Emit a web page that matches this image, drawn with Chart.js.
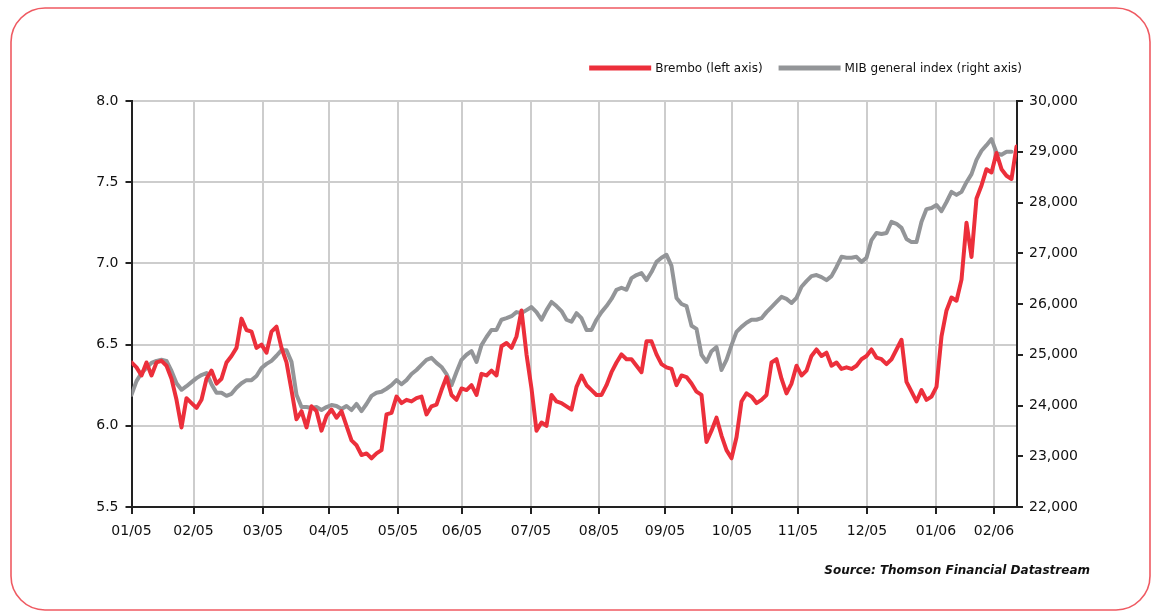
<!DOCTYPE html>
<html><head><meta charset="utf-8">
<script src="https://cdn.jsdelivr.net/npm/chart.js@4.4.1/dist/chart.umd.min.js"></script>
<style>html,body{margin:0;padding:0;background:#fff;}canvas{display:block;}</style>
</head><body>
<canvas id="c" width="1154" height="614"></canvas>
<script>
const monthLabels = ['01/05','02/05','03/05','04/05','05/05','06/05','07/05','08/05','09/05','10/05','11/05','12/05','01/06','02/06'];
const monthTicks = [0, 12.4, 26.3, 39.5, 53.3, 66.1, 79.9, 93.5, 106.7, 120.1, 133.3, 147.1, 160.9, 172.5];
const leftTicks = [5.5, 6.0, 6.5, 7.0, 7.5, 8.0];
const rightTicks = [22000, 23000, 24000, 25000, 26000, 27000, 28000, 29000, 30000];

const bremboValues = [
  6.39, 6.36, 6.31, 6.39, 6.31, 6.39, 6.40, 6.37, 6.29, 6.16,
  5.99, 6.17, 6.14, 6.11, 6.16, 6.29, 6.34, 6.26, 6.29, 6.39,
  6.43, 6.48, 6.66, 6.59, 6.58, 6.48, 6.50, 6.45, 6.58, 6.61,
  6.48, 6.39, 6.22, 6.04, 6.09, 5.99, 6.12, 6.09, 5.97, 6.06,
  6.10, 6.05, 6.09, 6.00, 5.91, 5.88, 5.82, 5.83, 5.80, 5.83,
  5.85, 6.07, 6.08, 6.18, 6.14, 6.16, 6.15, 6.17, 6.18, 6.07,
  6.12, 6.13, 6.22, 6.30, 6.19, 6.16, 6.23, 6.22, 6.25, 6.19,
  6.32, 6.31, 6.34, 6.31, 6.49, 6.51, 6.48, 6.55, 6.71, 6.44,
  6.23, 5.97, 6.02, 6.00, 6.19, 6.15, 6.14, 6.12, 6.10, 6.24,
  6.31, 6.25, 6.22, 6.19, 6.19, 6.25, 6.33, 6.39, 6.44, 6.41,
  6.41, 6.37, 6.33, 6.52, 6.52, 6.44, 6.38, 6.36, 6.35, 6.25,
  6.31, 6.30, 6.26, 6.21, 6.19, 5.90, 5.97, 6.05, 5.94, 5.85,
  5.80, 5.93, 6.15, 6.20, 6.18, 6.14, 6.16, 6.19, 6.39, 6.41,
  6.29, 6.20, 6.26, 6.37, 6.31, 6.34, 6.43, 6.47, 6.43, 6.45,
  6.37, 6.39, 6.35, 6.36, 6.35, 6.37, 6.41, 6.43, 6.47, 6.42,
  6.41, 6.38, 6.41, 6.47, 6.53, 6.27, 6.21, 6.15, 6.22, 6.16,
  6.18, 6.24, 6.55, 6.71, 6.79, 6.77, 6.90, 7.25, 7.04, 7.40,
  7.48, 7.58, 7.56, 7.68, 7.58, 7.54, 7.52, 7.72
];

const mibValues = [
  24210, 24480, 24640, 24740, 24840, 24880, 24900, 24880, 24680, 24440,
  24310, 24380, 24460, 24540, 24600, 24640, 24420, 24250, 24250, 24190,
  24230, 24350, 24440, 24500, 24500, 24580, 24740, 24820, 24880, 24980,
  25090, 25090, 24860, 24210, 23970, 23970, 23950, 23970, 23910, 23970,
  24010, 23990, 23930, 23990, 23910, 24030, 23890, 24030, 24190, 24250,
  24270, 24330, 24400, 24500, 24420, 24500, 24620, 24700, 24800, 24900,
  24940, 24840, 24760, 24620, 24400, 24660, 24900, 25000, 25070, 24860,
  25190, 25350, 25490, 25490, 25690, 25720, 25760, 25840, 25820, 25880,
  25940, 25840, 25690, 25880, 26040, 25960, 25860, 25690, 25650, 25820,
  25720, 25490, 25490, 25690, 25840, 25960, 26100, 26280, 26320, 26280,
  26510, 26570, 26610, 26470, 26630, 26830, 26910, 26970, 26750, 26120,
  26000, 25960, 25570, 25510, 25000, 24860, 25070, 25150, 24700, 24900,
  25190, 25450, 25550, 25630, 25690, 25690, 25720, 25840, 25940, 26040,
  26140, 26100, 26020, 26120, 26340, 26450, 26550, 26570, 26530, 26470,
  26550, 26730, 26930, 26910, 26910, 26930, 26830, 26910, 27260, 27400,
  27380, 27400, 27620, 27580, 27500, 27280, 27220, 27220, 27620, 27870,
  27890, 27950, 27830, 28010, 28210, 28150, 28210, 28400, 28560, 28840,
  29020, 29130, 29250, 28980, 28940, 29000, 29000, null
];

const seriesNames = ['Brembo (left axis)', 'MIB general index (right axis)'];
const seriesColors = ['#ec2f3b', '#939598'];
const sourceText = 'Source: Thomson Financial Datastream';

const FAMILY = "'DejaVu Sans', 'Liberation Sans', sans-serif";
const TEXT = '#111111';

const decor = {
  id: 'decor',
  beforeDraw(chart) {
    const c = chart.ctx;
    c.save();
    c.fillStyle = '#ffffff';
    c.fillRect(0, 0, chart.width, chart.height);
    c.restore();
  },
  afterDraw(chart) {
    const c = chart.ctx;
    c.save();
    c.strokeStyle = '#ef5a62';
    c.lineWidth = 1.6;
    c.beginPath();
    c.roundRect(11, 8, 1139, 602, 34);
    c.stroke();
    c.font = '12px ' + FAMILY;
    c.textBaseline = 'middle';
    const sw = 62, gap = 4, sep = 16, ly = 68;
    const items = chart.data.datasets.map(d => ({ label: d.label, color: d.borderColor, w: c.measureText(d.label).width }));
    let total = 0;
    items.forEach((it, k) => { total += sw + gap + it.w + (k ? sep : 0); });
    let x = 1022 - total;
    items.forEach((it, k) => {
      if (k) x += sep;
      c.strokeStyle = it.color;
      c.lineWidth = 5;
      c.lineCap = 'butt';
      c.beginPath();
      c.moveTo(x, ly);
      c.lineTo(x + sw, ly);
      c.stroke();
      x += sw + gap;
      c.fillStyle = TEXT;
      c.textAlign = 'left';
      c.fillText(it.label, x, ly + 1);
      x += it.w;
    });
    c.font = 'italic bold 12px ' + FAMILY;
    c.textAlign = 'right';
    c.fillStyle = TEXT;
    c.fillText(sourceText, 1090, 571);
    c.restore();
  }
};

new Chart(document.getElementById('c').getContext('2d'), {
  type: 'line',
  data: {
    datasets: [
      {
        label: seriesNames[0],
        data: bremboValues.map((v, i) => ({ x: i, y: v })),
        yAxisID: 'y',
        borderColor: seriesColors[0],
        backgroundColor: seriesColors[0],
        borderWidth: 4,
        pointRadius: 0,
        tension: 0,
        borderJoinStyle: 'round',
        borderCapStyle: 'round'
      },
      {
        label: seriesNames[1],
        data: mibValues.map((v, i) => ({ x: i, y: v })),
        yAxisID: 'y1',
        borderColor: seriesColors[1],
        backgroundColor: seriesColors[1],
        borderWidth: 4,
        pointRadius: 0,
        tension: 0,
        borderJoinStyle: 'round',
        borderCapStyle: 'round'
      }
    ]
  },
  options: {
    responsive: false,
    animation: false,
    devicePixelRatio: 1,
    layout: { padding: { left: 0, right: 0, top: 101, bottom: 0 } },
    plugins: { legend: { display: false }, tooltip: { enabled: false } },
    scales: {
      x: {
        type: 'linear',
        min: 0,
        max: 177.1,
        afterBuildTicks: s => { s.ticks = monthTicks.map(v => ({ value: v })); },
        afterFit: s => { s.height = 107; },
        ticks: {
          callback: (v, i) => monthLabels[i],
          autoSkip: false,
          maxRotation: 0,
          padding: 9,
          color: TEXT,
          font: { family: FAMILY, size: 14 }
        },
        grid: { color: '#cdcdcd', lineWidth: 2, tickColor: '#222', tickLength: 7 },
        border: { color: '#222', width: 2 }
      },
      y: {
        position: 'left',
        min: 5.5,
        max: 8.0,
        afterBuildTicks: s => { s.ticks = leftTicks.map(v => ({ value: v })); },
        afterFit: s => { s.width = 131.5; },
        ticks: {
          callback: v => Number(v).toFixed(1),
          padding: 7,
          color: TEXT,
          font: { family: FAMILY, size: 14 }
        },
        grid: { color: '#cdcdcd', lineWidth: 2, tickColor: '#222', tickLength: 6 },
        border: { color: '#222', width: 2 }
      },
      y1: {
        position: 'right',
        min: 22000,
        max: 30000,
        afterBuildTicks: s => { s.ticks = rightTicks.map(v => ({ value: v })); },
        afterFit: s => { s.width = 137; },
        ticks: {
          callback: v => Number(v).toLocaleString('en-US'),
          padding: 6,
          color: TEXT,
          font: { family: FAMILY, size: 14 }
        },
        grid: { drawOnChartArea: false, tickColor: '#222', tickLength: 6, lineWidth: 2 },
        border: { color: '#222', width: 2 }
      }
    }
  },
  plugins: [decor]
});
</script>
</body></html>
